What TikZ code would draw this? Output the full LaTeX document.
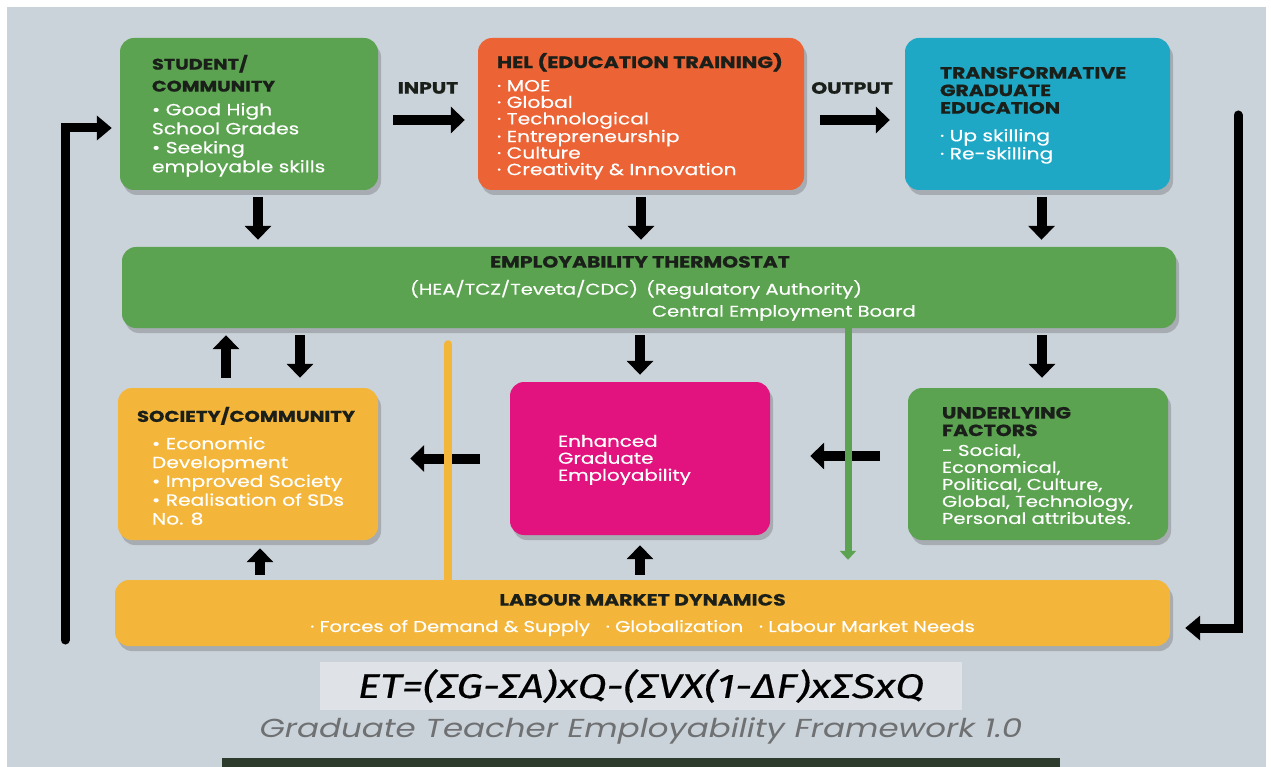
\documentclass[tikz,border=0pt]{standalone}
\usepackage{fontspec}
\setmainfont{Poppins}
\newfontfamily\itmfont[FakeStretch=1.25, FakeBold=0.5]{Poppins}
\newfontfamily\ttlfont[FakeStretch=1.25, BoldFeatures={FakeBold=0.8}]{Poppins}
\newfontfamily\capfont[FakeStretch=1.25]{Poppins}
\newfontfamily\fira[FakeStretch=1.25, FakeBold=0.4]{Fira Sans}
\usetikzlibrary{arrows.meta,shadows}
\definecolor{bg}{HTML}{CBD3DA}
\definecolor{gbox}{HTML}{5BA350}
\definecolor{obox}{HTML}{EC6335}
\definecolor{cbox}{HTML}{1FA8C6}
\definecolor{ybox}{HTML}{F3B63B}
\definecolor{mbox}{HTML}{E2137E}
\definecolor{fbox}{HTML}{DFE3E8}
\definecolor{dark}{HTML}{1A1F1A}
\definecolor{capg}{HTML}{6E7072}
\definecolor{bar}{HTML}{2C3B2B}
\tikzset{
  box/.style={rectangle, rounded corners=14pt, inner sep=0pt, draw=none,
    drop shadow={shadow xshift=3pt, shadow yshift=-5pt, opacity=0.18, fill=black}},
  ttl/.style={inner sep=0pt, anchor=north west, align=left, text=dark,
    font=\ttlfont\bfseries\fontsize{16.3}{17.5}\selectfont},
  itm/.style={inner sep=0pt, anchor=north west, align=left, text=white,
    font=\itmfont\fontsize{16.2}{19}\selectfont},
  blk/.style={line width=10pt, draw=black, -{Triangle[width=26pt,length=14pt]}},
  loopline/.style={line width=9pt, draw=black, line cap=round, -{Triangle[width=24pt,length=15pt]}}
}
\begin{document}
\begin{tikzpicture}[x=1pt,y=-1pt]
\useasboundingbox (0,0) rectangle (1271,767);
\fill[white] (0,0) rectangle (1271,767);
\fill[bg] (7,7) rectangle (1266,767);
\fill[bar] (222,758) rectangle (1060,767);

% boxes
\node[box, fill=gbox, minimum width=258pt, minimum height=152pt] (student) at (249,114) {};
\node[box, fill=obox, minimum width=326pt, minimum height=152pt] (hel) at (641,114) {};
\node[box, fill=cbox, minimum width=265pt, minimum height=152pt] (trans) at (1037.5,114) {};
\node[box, fill=gbox, minimum width=1054pt, minimum height=81pt] (thermo) at (649,287.5) {};
\node[box, fill=ybox, minimum width=260pt, minimum height=152pt] (soc) at (248,464) {};
\node[box, fill=mbox, minimum width=260pt, minimum height=153pt] (enh) at (640,458.5) {};
\node[box, fill=gbox, minimum width=260pt, minimum height=152pt] (und) at (1038,464) {};
\node[box, fill=ybox, minimum width=1055pt, minimum height=66pt] (labour) at (642.5,613) {};
\node[rectangle, fill=fbox, inner sep=0pt, minimum width=642pt, minimum height=48pt] (formula) at (641,686) {};

% texts
\node[ttl, font=\ttlfont\bfseries\fontsize{15.4}{22}\selectfont] (studentT) at ([xshift=32pt,yshift=-17pt]student.north west) {STUDENT/\\COMMUNITY};
\node[itm] (studentI) at ([xshift=32pt,yshift=-65pt]student.north west) {• Good High\\School Grades\\• Seeking\\employable skills};

\node[ttl, font=\ttlfont\bfseries\fontsize{16.5}{18}\selectfont] (helT) at ([xshift=19pt,yshift=-15pt]hel.north west) {HEL (EDUCATION TRAINING)};
\node[itm, font=\itmfont\fontsize{16.2}{16.5}\selectfont] (helI) at ([xshift=19pt,yshift=-42pt]hel.north west) {· MOE\\· Global\\· Technological\\· Entrepreneurship\\· Culture\\· Creativity \& Innovation};

\node[ttl] (transT) at ([xshift=35pt,yshift=-29pt]trans.north west) {TRANSFORMATIVE\\GRADUATE\\EDUCATION};
\node[itm, font=\itmfont\fontsize{16.2}{18}\selectfont] (transI) at ([xshift=35pt,yshift=-91pt]trans.north west) {· Up skilling\\· Re-skilling};

\node[ttl, anchor=north] (thermoT) at ([yshift=-9pt,xshift=-9pt]thermo.north) {EMPLOYABILITY THERMOSTAT};
\node[itm, anchor=north west, font=\itmfont\fontsize{15.6}{22}\selectfont] (thermoI) at ([xshift=288pt,yshift=-33pt]thermo.north west) {(HEA/TCZ/Teveta/CDC)\enspace (Regulatory Authority)\\\hspace*{242pt}Central Employment Board};

\node[ttl, font=\ttlfont\bfseries\fontsize{15.7}{18}\selectfont] (socT) at ([xshift=19pt,yshift=-19pt]soc.north west) {SOCIETY/COMMUNITY};
\node[itm, font=\itmfont\fontsize{16.2}{18.8}\selectfont] (socI) at ([xshift=34pt,yshift=-49pt]soc.north west) {• Economic\\Development\\• Improved Society\\• Realisation of SDs\\No. 8};

\node[itm, font=\itmfont\fontsize{15.9}{17}\selectfont] (enhI) at ([xshift=48pt,yshift=-53pt]enh.north west) {Enhanced\\Graduate\\Employability};

\node[ttl] (undT) at ([xshift=34pt,yshift=-19pt]und.north west) {UNDERLYING\\FACTORS};
\node[itm, font=\itmfont\fontsize{15.7}{17}\selectfont] (undI) at ([xshift=34pt,yshift=-56pt]und.north west) {- Social,\\Economical,\\Political, Culture,\\Global, Technology,\\Personal attributes.};

\node[ttl, anchor=north] (labourT) at ([yshift=-14pt]labour.north) {LABOUR MARKET DYNAMICS};
\node[itm, anchor=north, font=\itmfont\fontsize{15.7}{18}\selectfont] (labourI) at ([yshift=-40pt]labour.north) {· Forces of Demand \& Supply\quad · Globalization\quad · Labour Market Needs};

\node[inner sep=0pt, text=black, font=\fira\itshape\fontsize{34}{40}\selectfont] (formT) at (formula.center) {ET=(ΣG-ΣA)xQ-(ΣVX(1-ΔF)xΣSxQ};
\node[inner sep=0pt, text=capg, font=\capfont\itshape\fontsize{26}{30}\selectfont] (cap) at (641,731) {Graduate Teacher Employability Framework 1.0};

% labels
\node[inner sep=0pt, text=dark, font=\ttlfont\bfseries\fontsize{16.3}{18}\selectfont] (inputL) at (428,88) {INPUT};
\node[inner sep=0pt, text=dark, font=\ttlfont\bfseries\fontsize{16.3}{18}\selectfont] (outputL) at (852,88) {OUTPUT};

% horizontal top arrows
\draw[blk, shorten <=15pt, shorten >=13pt] ([yshift=-6pt]student.east) -- ([yshift=-6pt]student.east -| hel.west);
\draw[blk, shorten <=16pt, shorten >=15pt] ([yshift=-6pt]hel.east) -- ([yshift=-6pt]hel.east -| trans.west);

% down arrows to thermostat
\draw[blk, shorten <=7pt, shorten >=7pt] ([xshift=9pt]student.south) -- ([xshift=9pt]student.south |- thermo.north);
\draw[blk, shorten <=7pt, shorten >=7pt] (hel.south) -- (hel.south |- thermo.north);
\draw[blk, shorten <=7pt, shorten >=7pt] ([xshift=4pt]trans.south) -- ([xshift=4pt]trans.south |- thermo.north);

% thermostat <-> lower boxes
\draw[blk, shorten <=10pt, shorten >=7pt] ([xshift=-22pt]soc.north) -- ([xshift=-22pt]soc.north |- thermo.south);
\draw[blk, shorten <=7pt, shorten >=10pt] ([xshift=52pt]soc.north |- thermo.south) -- ([xshift=52pt]soc.north);
\draw[blk, shorten <=7pt, shorten >=7pt] (enh.north |- thermo.south) -- (enh.north);
\draw[blk, shorten <=7pt, shorten >=10pt] ([xshift=4pt]und.north |- thermo.south) -- ([xshift=4pt]und.north);

% horizontal arrows in lower row
\draw[blk, shorten <=30pt, shorten >=32pt] (enh.west) -- (enh.west -| soc.east);
\draw[blk, shorten <=28pt, shorten >=40pt] ([yshift=8pt]und.west) -- ([yshift=8pt]und.west -| enh.east);

% labour up arrows
\draw[blk, shorten <=5pt, shorten >=8pt] ([xshift=12pt]soc.south |- labour.north) -- ([xshift=12pt]soc.south);
\draw[blk, shorten <=5pt, shorten >=10pt] (enh.south |- labour.north) -- (enh.south);

% thin vertical lines
\coordinate (yx) at (448,0);
\coordinate (gx) at (848,0);
\draw[ybox, line width=8pt, line cap=round, shorten >=16pt] (labour.north -| yx) -- (thermo.south -| yx);
\draw[gbox, line width=7pt, -{Triangle[width=16pt,length=9pt]}, shorten >=20pt] (thermo.south -| gx) -- (labour.north -| gx);

% big loops
\coordinate (lstart) at (65,640);
\draw[loopline, shorten >=8pt] (lstart) |- ([yshift=-14pt]student.west);
\coordinate (rstart) at (1238,115);
\draw[loopline, shorten >=15pt] (rstart) |- ([yshift=-15pt]labour.east);
\end{tikzpicture}
\end{document}
